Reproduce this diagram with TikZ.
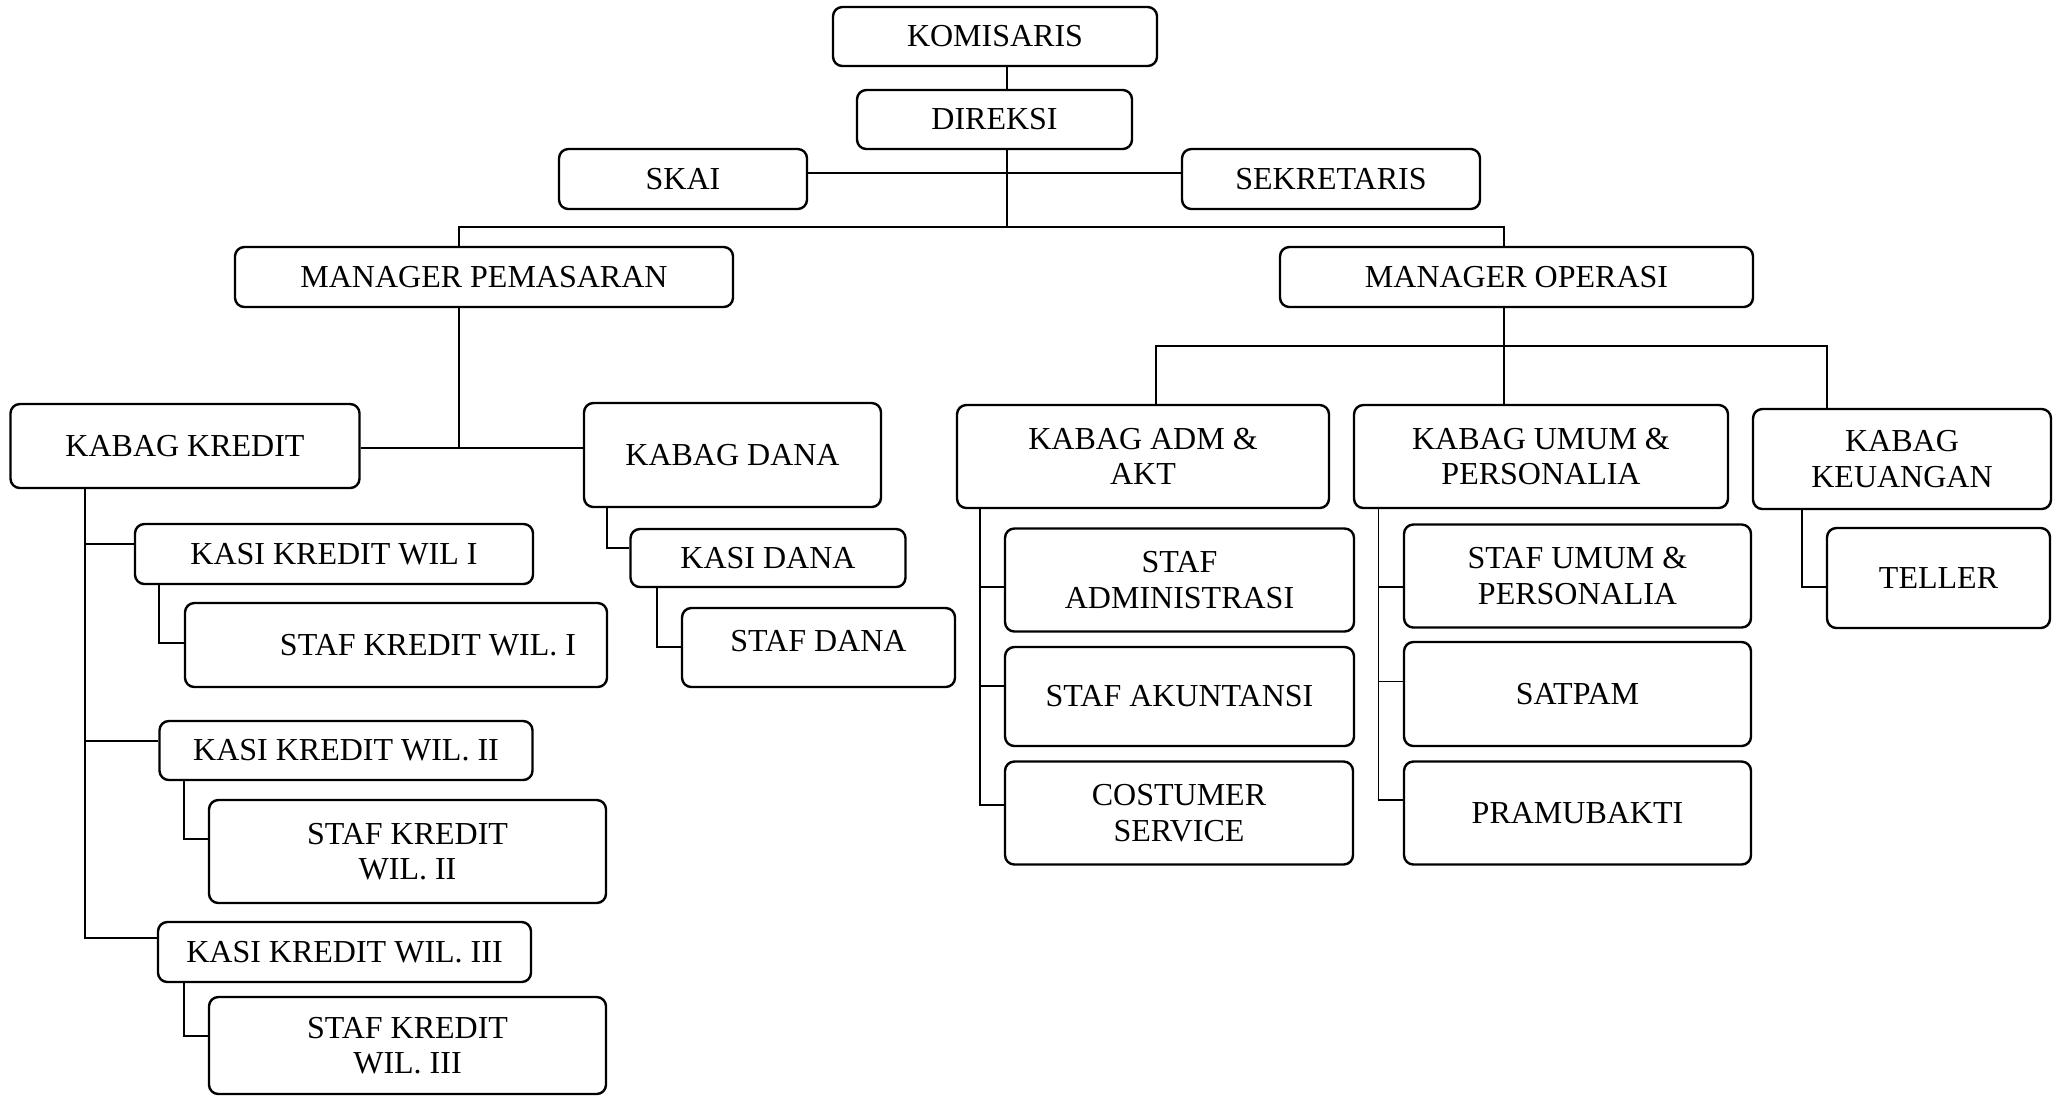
\documentclass[tikz,border=0pt]{standalone}
\usepackage{fontspec}
\setmainfont{Liberation Serif}
\usepackage{tikz}

\tikzset{
  box/.style={draw, rounded corners=3.5pt, line width=0.9pt, align=center, inner sep=1pt,
    font=\fontsize{12pt}{13.3pt}\selectfont},
  sz/.style 2 args={minimum width=#1*0.375pt, minimum height=#2*0.375pt},
  conn/.style={line width=0.6pt},
}

\begin{document}
\begin{tikzpicture}[x=0.375pt,y=0.375pt,yscale=-1,xscale=1]
        \useasboundingbox (0,0) rectangle (2057,1097);

        %Boxes: top
        \node[box, sz={324}{59}] (kom) at (995,36.5) {KOMISARIS};
        \node[box, sz={275}{59}] (dir) at (994.5,119.5) {DIREKSI};
        \node[box, sz={248}{60}] (skai) at (683,179) {SKAI};
        \node[box, sz={298}{60}] (sek) at (1331,179) {SEKRETARIS};
        \node[box, sz={498}{60}] (mp) at (484,277) {MANAGER PEMASARAN};
        \node[box, sz={473}{60}] (mo) at (1516.5,277) {MANAGER OPERASI};

        %Boxes: kabag
        \node[box, sz={349}{84}] (kredit) at (185,446) {KABAG KREDIT};
        \node[box, sz={297}{104}] (dana) at (732.5,455) {KABAG DANA};
        \node[box, sz={372}{103}] (adm) at (1143,456.5) {KABAG ADM \&\\AKT};
        \node[box, sz={374}{103}] (umum) at (1541,456.5) {KABAG UMUM \&\\PERSONALIA};
        \node[box, sz={298}{100}] (keu) at (1902,459) {KABAG\\KEUANGAN};

        %Boxes: kredit
        \node[box, sz={398}{60}] (kasi1) at (334,554) {KASI KREDIT WIL I};
        \node[box, sz={422}{84}] (staf1) at (396,645) {\hspace*{24pt}STAF KREDIT WIL. I};
        \node[box, sz={373}{59}] (kasi2) at (346,750.5) {KASI KREDIT WIL. II};
        \node[box, sz={397}{103}] (staf2) at (407.5,851.5) {STAF KREDIT\\WIL. II};
        \node[box, sz={373}{60}] (kasi3) at (344.5,952) {KASI KREDIT WIL. III};
        \node[box, sz={397}{97}] (staf3) at (407.5,1045.5) {STAF KREDIT\\WIL. III};

        %Boxes: dana
        \node[box, sz={275}{58}] (kasidana) at (768,558) {KASI DANA};
        \node[box, sz={273}{79}] (stafdana) at (818.5,647.5) {\raisebox{5pt}{STAF DANA}};

        %Boxes: operasi
        \node[box, sz={349}{103}] (stafadm) at (1179.5,580) {STAF\\ADMINISTRASI};
        \node[box, sz={349}{99}] (stafakt) at (1179.5,696.5) {STAF AKUNTANSI};
        \node[box, sz={348}{103}] (cs) at (1179,813) {COSTUMER\\SERVICE};
        \node[box, sz={347}{103}] (stafumum) at (1577.5,576) {STAF UMUM \&\\PERSONALIA};
        \node[box, sz={347}{104}] (satpam) at (1577.5,694) {SATPAM};
        \node[box, sz={347}{103}] (pramu) at (1577.5,813) {PRAMUBAKTI};
        \node[box, sz={223}{100}] (teller) at (1938.5,578) {TELLER};

        %Junctions
        \coordinate (t0) at (1007,173);
        \coordinate (t1) at (1007,227);
        \coordinate (pm) at (459,227);
        \coordinate (po) at (1504,227);
        \coordinate (pk) at (459,448);
        \coordinate (oa) at (1156,346);
        \coordinate (ou) at (1504,346);
        \coordinate (ok) at (1827,346);
        \coordinate (k1) at (85,544);
        \coordinate (k2) at (85,741);
        \coordinate (k3) at (85,938);
        \coordinate (s1) at (159,643);
        \coordinate (s2) at (184,839);
        \coordinate (s3) at (184,1036);
        \coordinate (d1) at (607,548);
        \coordinate (d2) at (657,647);
        \coordinate (a1) at (980,587);
        \coordinate (a2) at (980,686);
        \coordinate (a3) at (980,805);
        \coordinate (u1) at (1378.5,587);
        \coordinate (u2) at (1378.5,681.5);
        \coordinate (u3) at (1378.5,800);
        \coordinate (q1) at (1802,587);

        %Lines: top
        \draw [line width=0.4pt] (kom.south -| t0) -- (dir.north -| t0);
        \draw [conn] (dir.south -| t1) -- (t1);
        \draw [conn] (skai.east |- t0) -- (sek.west |- t0);
        \draw [conn] (mp.north -| pm) -- (pm) -- (po) -- (mo.north -| po);

        %Lines: pemasaran
        \draw [conn] (mp.south -| pk) -- (pk);
        \draw [conn] (kredit.east |- pk) -- (dana.west |- pk);
        \draw [conn] (kredit.south -| k3) -- (k3) -- (kasi3.west |- k3);
        \draw [conn] (k1) -- (kasi1.west |- k1);
        \draw [conn] (k2) -- (kasi2.west |- k2);
        \draw [conn] (kasi1.south -| s1) -- (s1) -- (staf1.west |- s1);
        \draw [conn] (kasi2.south -| s2) -- (s2) -- (staf2.west |- s2);
        \draw [conn] (kasi3.south -| s3) -- (s3) -- (staf3.west |- s3);
        \draw [conn] (dana.south -| d1) -- (d1) -- (kasidana.west |- d1);
        \draw [conn] (kasidana.south -| d2) -- (d2) -- (stafdana.west |- d2);

        %Lines: operasi
        \draw [conn] (mo.south -| ou) -- (ou) -- (umum.north -| ou);
        \draw [conn] (adm.north -| oa) -- (oa) -- (ok) -- (keu.north -| ok);
        \draw [conn] (adm.south -| a3) -- (a3) -- (cs.west |- a3);
        \draw [conn] (a1) -- (stafadm.west |- a1);
        \draw [conn] (a2) -- (stafakt.west |- a2);
        \draw [conn] (umum.south -| u3) -- (u3) -- (pramu.west |- u3);
        \draw [conn] (u1) -- (stafumum.west |- u1);
        \draw [conn] (u2) -- (satpam.west |- u2);
        \draw [conn] (keu.south -| q1) -- (q1) -- (teller.west |- q1);

\end{tikzpicture}
\end{document}
